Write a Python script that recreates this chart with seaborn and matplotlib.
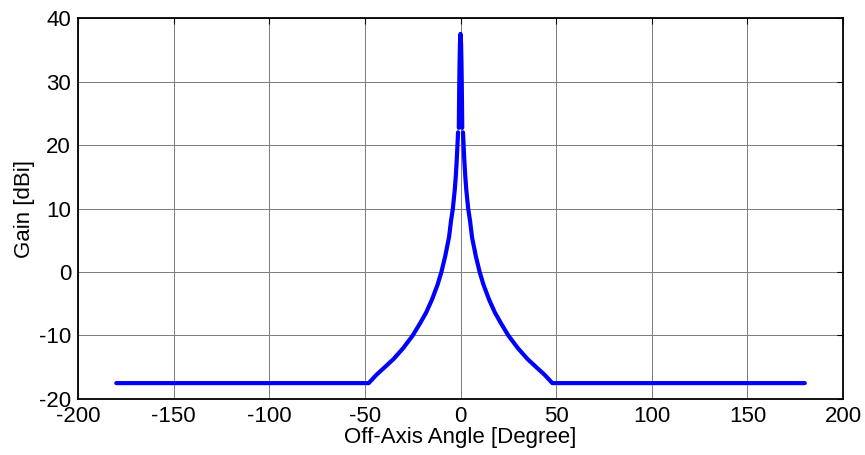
import pandas as pd
import seaborn as sns
import matplotlib.pyplot as plt

# main lobe
main_angle = [-0.9, -0.7, -0.5, -0.3, 0.0, 0.3, 0.5, 0.7, 0.9]
main_gain = [22.7, 28.5, 32.9, 35.9, 37.5, 35.9, 32.9, 28.5, 22.7]

# side lobe, one side (angles > 0), mirrored for the other side
side_angle = [1.3, 1.6, 2.0, 2.5, 3.0, 4.0, 5.0, 6.0, 7.0, 8.0, 10.0, 12.0,
              15.0, 18.0, 21.0, 25.0, 30.0, 35.0, 40.0, 44.0, 48.0, 180.0]
side_gain = [22.0, 20.0, 17.5, 15.0, 13.0, 10.0, 8.0, 5.5, 4.0, 2.5, 0.0, -2.0,
             -4.4, -6.4, -8.0, -10.0, -12.0, -13.7, -15.1, -16.2, -17.5, -17.5]

x_ticks = [-200, -150, -100, -50, 0, 50, 100, 150, 200]
y_ticks = [-20, -10, 0, 10, 20, 30, 40]


def build_frame():
    left = pd.DataFrame({'angle': [-a for a in side_angle], 'gain': side_gain, 'seg': 'left'})
    main = pd.DataFrame({'angle': main_angle, 'gain': main_gain, 'seg': 'main'})
    right = pd.DataFrame({'angle': side_angle, 'gain': side_gain, 'seg': 'right'})
    return pd.concat([left, main, right], ignore_index=True)


def main():
    sns.set_style('white')
    plt.rcParams['font.family'] = ['Liberation Sans', 'DejaVu Sans']
    plt.rcParams['axes.unicode_minus'] = False
    plt.rcParams['text.color'] = 'black'
    plt.rcParams['axes.labelcolor'] = 'black'

    df = build_frame()
    fig = plt.figure(figsize=(8.65, 4.55), dpi=100)
    ax = fig.add_axes([0.0902, 0.1231, 0.8844, 0.8373])

    sns.lineplot(data=df, x='angle', y='gain', units='seg', estimator=None,
                 sort=False, color='#0000ff', lw=3.0, ax=ax)

    ax.set_xlim(-200, 200)
    ax.set_ylim(-20, 40)
    ax.set_xticks(x_ticks)
    ax.set_yticks(y_ticks)
    ax.grid(True, color='#7a7a7a', lw=0.7)
    ax.tick_params(direction='in', length=4, width=0.8, top=True, right=True,
                   labelsize=16, pad=5, colors='black')
    for s in ax.spines.values():
        s.set_color('black')
        s.set_linewidth(1.3)
    ax.set_xlabel('Off-Axis Angle [Degree]', fontsize=16, labelpad=0)
    ax.set_ylabel('Gain [dBi]', fontsize=16, labelpad=3)

    fig.savefig('out.png', dpi=100)


if __name__ == "__main__":
    main()
